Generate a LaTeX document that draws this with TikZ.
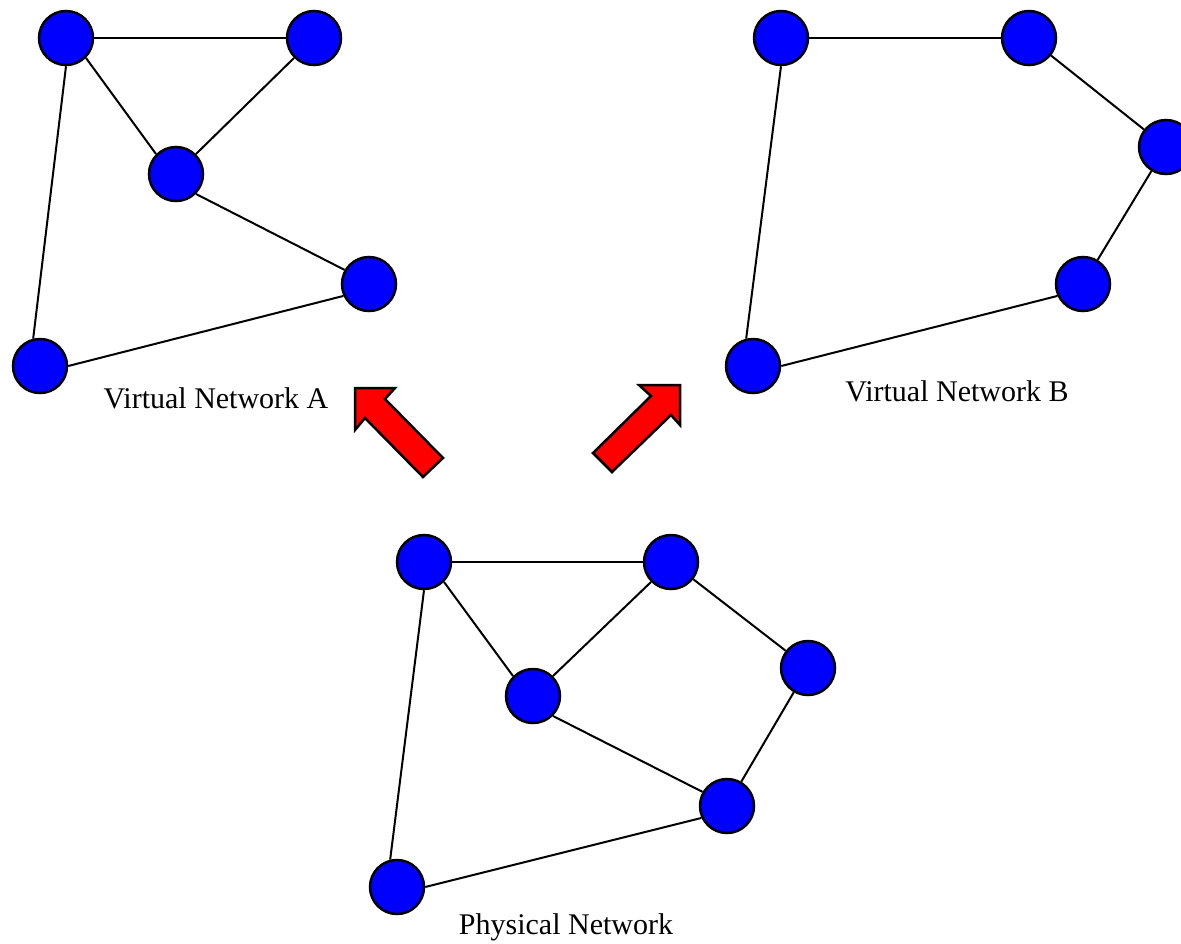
\documentclass[tikz,border=0pt]{standalone}
\usepackage{fontspec}
\setmainfont{Liberation Serif}

\begin{document}
\begin{tikzpicture}[x=1pt, y=-1pt,
                    host/.style={circle, draw=black, line width=2.5pt, fill=blue, minimum size=54pt, inner sep=0pt},
                    link/.style={draw=black, line width=2pt},
                    mapping/.style={draw=black, line width=2.5pt, fill=red, line join=miter},
                    caption/.style={font=\fontsize{30}{36}\selectfont}
]
\useasboundingbox (0,0) rectangle (1181,943);

% virtual network A
\node [host] at (66,38) (a1) {};
\node [host] at (314,38) (a2) {};
\node [host] at (176,174) (a3) {};
\node [host] at (369,284) (a4) {};
\node [host] at (40,366) (a5) {};
\node [caption] at (216,398) (labelA) {Virtual Network A};
%
\draw [link] (a1.east) -- (a2.west);
\draw [link] (a1.-45) -- (a3.135);
\draw [link] (a3.45) -- (a2.225);
\draw [link] (a3.-45) -- (a4.150);
\draw [link] (a5.east) -- (a4.205);
\draw [link] (a1.south) -- (a5.104);

% virtual network B
\node [host] at (781,38) (b1) {};
\node [host] at (1029,38) (b2) {};
\node [host] at (1166,147) (b3) {};
\node [host] at (1083,284) (b4) {};
\node [host] at (753,366) (b5) {};
\node [caption] at (957,391) (labelB) {Virtual Network B};
%
\draw [link] (b1.east) -- (b2.west);
\draw [link] (b2) -- (b3);
\draw [link] (b3) -- (b4);
\draw [link] (b5.east) -- (b4.205);
\draw [link] (b1.south) -- (b5.104);

% physical network
\node [host] at (424,562) (p1) {};
\node [host] at (671,562) (p2) {};
\node [host] at (533,696) (p3) {};
\node [host] at (808,668) (p4) {};
\node [host] at (727,806) (p5) {};
\node [host] at (397,887) (p6) {};
\node [caption] at (566,927) (labelP) {Physical Network};
%
\draw [link] (p1.east) -- (p2.west);
\draw [link] (p1.-45) -- (p3.135);
\draw [link] (p3.45) -- (p2.225);
\draw [link] (p2) -- (p4);
\draw [link] (p4) -- (p5);
\draw [link] (p3.-45) -- (p5.150);
\draw [link] (p6.east) -- (p5.205);
\draw [link] (p1.south) -- (p6.104);

% mapping arrows
\draw [mapping] (355,388) -- (395,388) -- (385,399) -- (443,458) -- (423,477)
                -- (365,418) -- (355,430) -- cycle;
\draw [mapping] (680,385) -- (680,425) -- (671,415) -- (612,472) -- (593,453)
                -- (651,396) -- (639,385) -- cycle;
\end{tikzpicture}
\end{document}
